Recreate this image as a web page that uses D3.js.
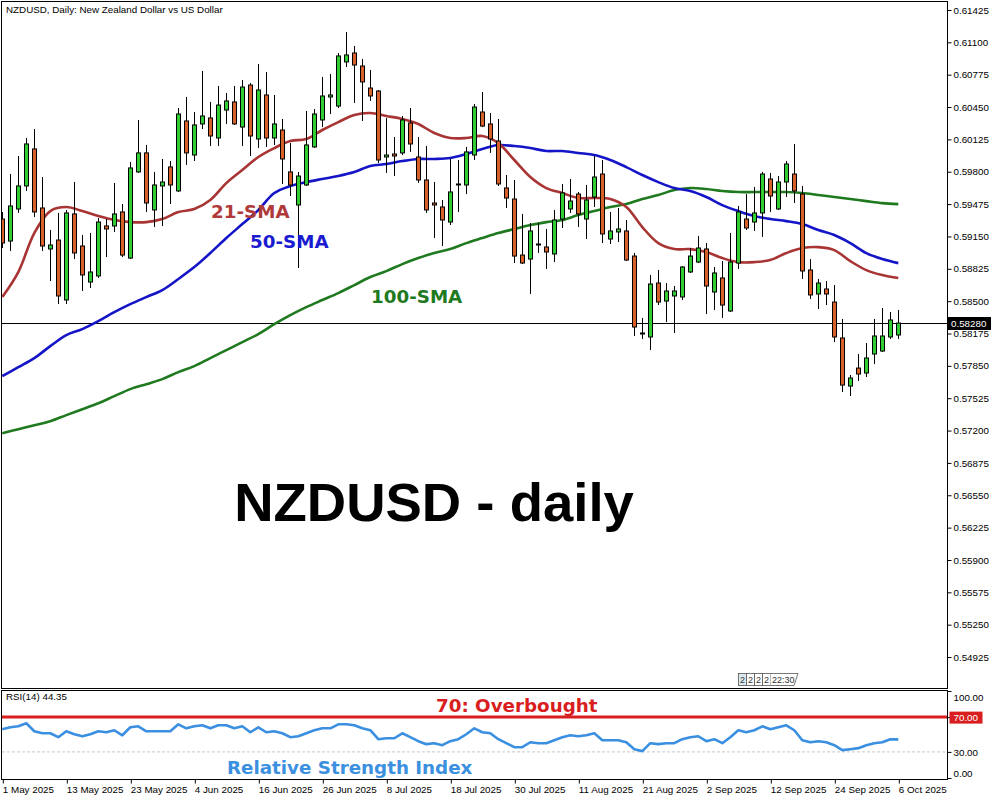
<!DOCTYPE html>
<html>
<head>
<meta charset="utf-8">
<script src="https://cdn.jsdelivr.net/npm/d3@7"></script>
<style>
  body { margin: 0; background: #fff; }
  text { font-family: "Liberation Sans", Arial, sans-serif; }
</style>
</head>
<body>
<div class="chart"></div>
<script>
// daily candles, 1 May 2025 .. 6 Oct 2025 (weekdays)
let opens = [0.59325,0.59104,0.59426,0.59657,0.60029,0.59436,0.59024,0.59114,0.58512,0.59376,
  0.59054,0.58692,0.58753,0.59255,0.59255,0.59396,0.58933,0.59798,0.59989,0.59416,
  0.59657,0.59848,0.59607,0.60310,0.59968,0.60280,0.60340,0.60139,0.60420,0.60501,
  0.60249,0.60671,0.60129,0.60571,0.60139,0.60219,0.59798,0.59466,0.59667,0.60049,
  0.60320,0.60551,0.60460,0.60903,0.60993,0.60862,0.60641,0.60611,0.59948,0.59978,
  0.59989,0.60290,0.59948,0.59717,0.59486,0.59446,0.59295,0.59667,0.59667,0.59968,
  0.60400,0.60280,0.60109,0.59637,0.59526,0.58963,0.58923,0.59064,0.59044,0.58974,
  0.59325,0.59426,0.59576,0.59325,0.59546,0.59777,0.59124,0.59195,0.59205,0.58953,
  0.58180,0.58140,0.58682,0.58501,0.58552,0.58542,0.58793,0.58893,0.59024,0.58592,
  0.58733,0.58401,0.58883,0.59325,0.59295,0.59386,0.59727,0.59426,0.59697,0.59777,
  0.59576,0.58813,0.58572,0.58622,0.58491,0.58130,0.57647,0.57828,0.57778,0.57969,
  0.57999,0.58140,0.58160];
let highs = [0.59395,0.59777,0.59958,0.60139,0.60229,0.59747,0.59215,0.59386,0.59416,0.59697,
  0.59165,0.59185,0.59335,0.59325,0.59687,0.59476,0.59898,0.60320,0.60069,0.59798,
  0.59928,0.59908,0.60440,0.60551,0.60400,0.60812,0.60501,0.60661,0.60591,0.60661,
  0.60722,0.60692,0.60882,0.60802,0.60571,0.60330,0.60089,0.59798,0.60410,0.60430,
  0.60752,0.60782,0.60993,0.61204,0.61063,0.60933,0.60822,0.60621,0.60340,0.60149,
  0.60360,0.60440,0.60149,0.60059,0.59697,0.59516,0.59928,0.59918,0.60049,0.60481,
  0.60601,0.60390,0.60330,0.59767,0.59717,0.59376,0.59285,0.59285,0.59225,0.59416,
  0.59677,0.59727,0.59597,0.59667,0.59958,0.59918,0.59396,0.59436,0.59315,0.58984,
  0.58331,0.58763,0.58813,0.58682,0.58652,0.58853,0.59034,0.59155,0.59084,0.58843,
  0.58903,0.59185,0.59456,0.59576,0.59647,0.59798,0.59788,0.59757,0.59908,0.60079,
  0.59657,0.58923,0.58723,0.58702,0.58662,0.58321,0.57758,0.57969,0.58079,0.58321,
  0.58431,0.58391,0.58411];
let lows = [0.59034,0.59004,0.59386,0.59607,0.59345,0.59004,0.58702,0.58471,0.58471,0.58923,
  0.58602,0.58632,0.58733,0.58943,0.59195,0.58943,0.58923,0.59788,0.59396,0.59245,
  0.59255,0.59476,0.59597,0.59868,0.59908,0.60229,0.60059,0.60059,0.60280,0.60270,
  0.60059,0.59958,0.60039,0.60049,0.60069,0.59677,0.59556,0.58833,0.59657,0.60039,
  0.60249,0.60380,0.60440,0.60852,0.60491,0.60310,0.60511,0.59888,0.59788,0.59757,
  0.59968,0.59999,0.59687,0.59386,0.59134,0.59054,0.59265,0.59396,0.59576,0.59918,
  0.60249,0.59989,0.59657,0.59436,0.58883,0.58873,0.58572,0.58984,0.58823,0.58893,
  0.59235,0.59386,0.59245,0.59124,0.59446,0.59084,0.59074,0.59094,0.58903,0.58150,
  0.58120,0.58009,0.58461,0.58290,0.58180,0.58512,0.58783,0.58883,0.58371,0.58411,
  0.58331,0.58391,0.58823,0.59215,0.59205,0.59145,0.59396,0.59416,0.59546,0.59486,
  0.58723,0.58522,0.58421,0.58461,0.58089,0.57587,0.57547,0.57698,0.57738,0.57868,
  0.57989,0.58120,0.58120];
let closes = [0.59084,0.59456,0.59657,0.60079,0.59396,0.59054,0.59064,0.58552,0.59386,0.58984,
  0.58763,0.58793,0.59295,0.59225,0.59376,0.58963,0.59838,0.59989,0.59486,0.59667,
  0.59697,0.59667,0.60380,0.59989,0.60270,0.60360,0.60159,0.60470,0.60511,0.60280,
  0.60651,0.60159,0.60621,0.60139,0.60280,0.59928,0.59667,0.59757,0.60069,0.60380,
  0.60561,0.60571,0.60963,0.60973,0.60872,0.60702,0.60561,0.59918,0.59968,0.59958,
  0.60320,0.60079,0.59717,0.59416,0.59466,0.59315,0.59597,0.59677,0.59999,0.60450,
  0.60259,0.60129,0.59677,0.59536,0.58953,0.58883,0.59205,0.59074,0.58994,0.59315,
  0.59587,0.59506,0.59376,0.59516,0.59747,0.59175,0.59205,0.59225,0.58913,0.58240,
  0.58170,0.58672,0.58491,0.58602,0.58602,0.58843,0.58953,0.59034,0.58652,0.58783,
  0.58461,0.58893,0.59396,0.59235,0.59386,0.59777,0.59556,0.59697,0.59878,0.59607,
  0.58803,0.58562,0.58682,0.58572,0.58140,0.57657,0.57728,0.57768,0.57929,0.58150,
  0.58150,0.58311,0.58280];

// moving averages, read every 2nd bar
let smaStep = 2;
let sma21 = [0.58541,0.58792,0.59184,0.59405,0.59445,0.59405,0.59355,0.59315,0.59294,0.59294,
  0.59325,0.59395,0.59425,0.59516,0.59686,0.59817,0.59948,0.60038,0.60108,0.60129,
  0.60219,0.60299,0.60370,0.60390,0.60360,0.60330,0.60279,0.60189,0.60139,0.60139,
  0.60159,0.60088,0.59918,0.59747,0.59636,0.59586,0.59536,0.59536,0.59526,0.59445,
  0.59244,0.59083,0.59023,0.59023,0.58993,0.58933,0.58892,0.58892,0.58913,0.58983,
  0.59033,0.59043,0.59013,0.58902,0.58812,0.58762,0.58732];
let sma50 = [0.57747,0.57837,0.57928,0.58048,0.58159,0.58219,0.58299,0.58390,0.58470,0.58541,
  0.58611,0.58722,0.58842,0.58983,0.59134,0.59274,0.59415,0.59586,0.59656,0.59696,
  0.59727,0.59757,0.59797,0.59857,0.59877,0.59907,0.59928,0.59928,0.59938,0.59978,
  0.60028,0.60068,0.60058,0.60038,0.60008,0.60008,0.59988,0.59968,0.59918,0.59847,
  0.59767,0.59696,0.59636,0.59606,0.59546,0.59465,0.59405,0.59355,0.59325,0.59304,
  0.59274,0.59214,0.59164,0.59083,0.58983,0.58923,0.58882];
let sma100 = [0.57174,0.57214,0.57254,0.57294,0.57355,0.57415,0.57475,0.57546,0.57616,0.57666,
  0.57717,0.57787,0.57847,0.57928,0.58008,0.58088,0.58169,0.58269,0.58360,0.58440,
  0.58511,0.58581,0.58661,0.58742,0.58802,0.58872,0.58933,0.58983,0.59023,0.59083,
  0.59134,0.59184,0.59224,0.59264,0.59294,0.59315,0.59365,0.59405,0.59445,0.59475,
  0.59526,0.59566,0.59616,0.59636,0.59626,0.59606,0.59596,0.59596,0.59596,0.59596,
  0.59586,0.59566,0.59546,0.59526,0.59505,0.59485,0.59475];

// RSI(14), one value per bar
let rsi = [56.0,58.3,59.4,62.9,53.7,51.4,51.4,46.9,53.7,50.3,
  48.0,50.3,53.7,52.6,54.9,49.1,58.3,59.4,53.7,53.7,
  53.7,53.7,61.7,57.1,59.4,60.6,57.1,60.6,60.6,57.1,
  59.4,52.6,58.3,52.6,53.7,51.4,46.9,48.0,51.4,54.9,
  57.1,57.1,61.7,61.7,60.6,57.1,54.9,44.6,45.7,45.7,
  51.4,46.9,42.3,38.9,40.0,37.7,42.3,44.6,50.3,57.1,
  52.6,51.4,44.6,40.0,35.4,35.4,41.1,40.0,40.0,43.4,
  46.9,49.1,48.0,49.1,51.4,43.4,43.4,43.4,41.1,33.1,
  30.9,40.0,38.9,40.0,40.0,44.6,46.9,48.0,42.3,44.6,
  40.0,46.9,54.9,52.6,54.9,59.4,56.0,58.3,60.6,54.9,
  43.4,41.1,42.3,41.1,37.7,32.0,33.1,34.3,37.7,40.0,
  41.1,44.6,44.35];

let priceTicks = [0.61425,0.61100,0.60775,0.60450,0.60125,0.59800,0.59475,0.59150,0.58825,0.58500,
  0.58175,0.57850,0.57525,0.57200,0.56875,0.56550,0.56225,0.55900,0.55575,0.55250,0.54925];
let rsiTicks = [100, 70, 30, 0];
let dateTicks = ["1 May 2025","13 May 2025","23 May 2025","4 Jun 2025","16 Jun 2025","26 Jun 2025",
  "8 Jul 2025","18 Jul 2025","30 Jul 2025","11 Aug 2025","21 Aug 2025","2 Sep 2025",
  "12 Sep 2025","24 Sep 2025","6 Oct 2025"];

let svgWidth = 1000;
let svgHeight = 800;
let panel = { left: 2, right: 947, top: 2, bottom: 688 };
let rsiPanel = { top: 690, bottom: 779 };
let smallFont = "9.8px";

let dates = d3.timeDay.range(new Date(2025, 4, 1), new Date(2025, 9, 7))
  .filter(d => d.getDay() % 6 !== 0);
let fmt = d3.timeFormat("%-d %b %Y");
let dateLabels = dates.map(fmt);

let candles = dates.map((d, i) => ({
  i: i, open: opens[i], high: highs[i], low: lows[i], close: closes[i]
}));

let svg = d3.select(".chart").append("svg")
  .attr("width", svgWidth)
  .attr("height", svgHeight)
  .style("display", "block")
  .style("background", "#fff");

let x = d3.scaleLinear().domain([0, dates.length - 1]).range([2.3, 898.3]);
let y = d3.scaleLinear().domain([0.54614, 0.61505]).range([panel.bottom, panel.top]);
let yRsi = d3.scaleLinear().domain([0, 100]).range([778, 691]);

svg.append("defs").append("clipPath").attr("id", "clipMain")
  .append("rect")
  .attr("x", panel.left).attr("y", panel.top)
  .attr("width", panel.right - panel.left).attr("height", panel.bottom - panel.top);
svg.select("defs").append("clipPath").attr("id", "clipRsi")
  .append("rect")
  .attr("x", panel.left).attr("y", rsiPanel.top)
  .attr("width", panel.right - panel.left).attr("height", rsiPanel.bottom - rsiPanel.top);

let chart = svg.append("g").attr("clip-path", "url(#clipMain)");

// current price line
let last = closes[closes.length - 1];
chart.append("line")
  .attr("x1", panel.left).attr("x2", panel.right)
  .attr("y1", Math.round(y(last)) + 0.5).attr("y2", Math.round(y(last)) + 0.5)
  .attr("stroke", "#000").attr("stroke-width", 1);

// moving averages
let maLine = d3.line()
  .x((d, k) => x(k * smaStep))
  .y(d => y(d))
  .curve(d3.curveCatmullRom);

[[sma100, "#1f7a1f"], [sma50, "#1515c8"], [sma21, "#a83434"]].forEach(function(s) {
  chart.append("path")
    .attr("d", maLine(s[0]))
    .attr("fill", "none")
    .attr("stroke", s[1])
    .attr("stroke-width", 2.6);
});

// candles
let cg = chart.selectAll("g.candle").data(candles).enter().append("g").attr("class", "candle");
cg.append("line")
  .attr("x1", d => Math.round(x(d.i)) + 0.5)
  .attr("x2", d => Math.round(x(d.i)) + 0.5)
  .attr("y1", d => y(d.high))
  .attr("y2", d => y(d.low))
  .attr("stroke", "#000").attr("stroke-width", 1);
cg.append("rect")
  .attr("x", d => Math.round(x(d.i)) - 1.5)
  .attr("width", 4)
  .attr("y", d => y(Math.max(d.open, d.close)))
  .attr("height", d => Math.max(0.6, Math.abs(y(d.open) - y(d.close))))
  .attr("fill", d => d.close >= d.open ? "#32cd32" : "#d8612a")
  .attr("stroke", "#000").attr("stroke-width", 1);

// panel borders
svg.append("rect")
  .attr("x", panel.left - 0.5).attr("y", panel.top - 0.5)
  .attr("width", panel.right - panel.left + 1).attr("height", panel.bottom - panel.top + 1)
  .attr("fill", "none").attr("stroke", "#000");
svg.append("rect")
  .attr("x", panel.left - 0.5).attr("y", rsiPanel.top + 0.5)
  .attr("width", panel.right - panel.left + 1).attr("height", rsiPanel.bottom - rsiPanel.top)
  .attr("fill", "none").attr("stroke", "#000");

// price axis
let priceAxis = d3.axisRight(y).tickValues(priceTicks).tickSize(4).tickPadding(2)
  .tickFormat(d3.format(".5f"));
let pa = svg.append("g").attr("transform", `translate(${panel.right + 0.5},0)`).call(priceAxis);
pa.select(".domain").remove();
pa.selectAll("text").attr("font-size", smallFont).attr("fill", "#000")
  .style("font-family", "'Liberation Sans', Arial, sans-serif");

// current price tag
let tagY = Math.round(y(last));
svg.append("rect").attr("x", panel.right).attr("y", tagY - 6).attr("width", 44).attr("height", 13).attr("fill", "#000");
svg.append("text").attr("x", panel.right + 4).attr("y", tagY + 4)
  .attr("font-size", smallFont).attr("fill", "#fff").text(d3.format(".5f")(last));

// RSI panel
let rp = svg.append("g").attr("clip-path", "url(#clipRsi)");
rp.append("line")
  .attr("x1", panel.left).attr("x2", panel.right)
  .attr("y1", yRsi(30)).attr("y2", yRsi(30))
  .attr("stroke", "#c8c8c8").attr("stroke-dasharray", "3,2");
rp.append("line")
  .attr("x1", panel.left).attr("x2", panel.right)
  .attr("y1", yRsi(70)).attr("y2", yRsi(70))
  .attr("stroke", "#d81e1e").attr("stroke-width", 3);
rp.append("path")
  .attr("d", d3.line().x((d, i) => x(i)).y(d => yRsi(d))(rsi))
  .attr("fill", "none")
  .attr("stroke", "#3a8fe0")
  .attr("stroke-width", 2.6)
  .attr("stroke-linejoin", "round");

let rsiAxis = d3.axisRight(yRsi).tickValues(rsiTicks).tickSize(4).tickPadding(2)
  .tickFormat(d3.format(".2f"));
let ra = svg.append("g").attr("transform", `translate(${panel.right + 0.5},0)`).call(rsiAxis);
ra.select(".domain").remove();
ra.selectAll("text").attr("font-size", smallFont).attr("fill", "#000")
  .style("font-family", "'Liberation Sans', Arial, sans-serif")
  .attr("dy", d => d === 100 ? "0.95em" : d === 0 ? "-0.2em" : "0.32em");
ra.selectAll(".tick").filter(d => d === 70).each(function() {
  let t = d3.select(this);
  t.insert("rect", "text").attr("x", 2).attr("y", -6).attr("width", 33).attr("height", 12).attr("fill", "#d81e1e");
  t.select("text").attr("fill", "#fff");
});

svg.append("text").attr("x", 6).attr("y", 700).attr("font-size", smallFont).attr("fill", "#000")
  .text("RSI(14) " + rsi[rsi.length - 1].toFixed(2));

// date axis
let tickIdx = dateTicks.map(t => dateLabels.indexOf(t));
let dateAxis = d3.axisBottom(x).tickValues(tickIdx).tickSize(4).tickPadding(3)
  .tickFormat(i => dateLabels[i]);
let da = svg.append("g").attr("transform", `translate(0,${rsiPanel.bottom + 0.5})`).call(dateAxis);
da.select(".domain").remove();
da.selectAll(".tick line").attr("transform", "translate(0.5,0)");
da.selectAll("text").attr("font-size", smallFont).attr("fill", "#000").attr("text-anchor", "start")
  .style("font-family", "'Liberation Sans', Arial, sans-serif");

// header
svg.append("text").attr("x", 6).attr("y", 13).attr("font-size", smallFont).attr("fill", "#000")
  .text("NZDUSD, Daily:  New Zealand Dollar vs US Dollar");

// time scale widget
let wg = svg.append("g").attr("transform", "translate(738,673)");
[0, 1, 2, 3].forEach(function(k) {
  wg.append("rect").attr("x", k * 8 + 0.5).attr("y", 0.5).attr("width", 8).attr("height", 12)
    .attr("fill", k === 0 ? "#dbe8f0" : "#fff").attr("stroke", "#555").attr("stroke-width", 0.8);
  wg.append("text").attr("x", k * 8 + 2).attr("y", 10).attr("font-size", "9px").attr("fill", "#333").text("2");
});
wg.append("path").attr("d", "M32.5,0.5 H60 L56,12.5 H32.5")
  .attr("fill", "#fff").attr("stroke", "#555").attr("stroke-width", 0.8);
wg.append("text").attr("x", 34).attr("y", 10).attr("font-size", "9px").attr("fill", "#333").text("22:30");

// annotations
function label(txt, xp, yp, size, color, family, anchor) {
  svg.append("text").attr("x", xp).attr("y", yp)
    .attr("font-size", size + "px").attr("font-weight", "bold")
    .style("font-family", family)
    .attr("fill", color).attr("text-anchor", anchor || "start")
    .text(txt);
}
let boldFont = "'DejaVu Sans', Verdana, sans-serif";
label("21-SMA", 211, 218, 18.3, "#b03a3a", boldFont);
label("50-SMA", 250, 248, 18.3, "#1a1ad0", boldFont);
label("100-SMA", 371, 303, 18.3, "#1f7a1f", boldFont);
label("70: Overbought", 436, 712, 18.3, "#d81e1e", boldFont);
label("Relative Strength Index", 227, 774, 18.3, "#3b90e0", boldFont);
label("NZDUSD - daily", 434, 521, 54.5, "#000", "'Liberation Sans', Arial, sans-serif", "middle");
</script>
</body>
</html>
